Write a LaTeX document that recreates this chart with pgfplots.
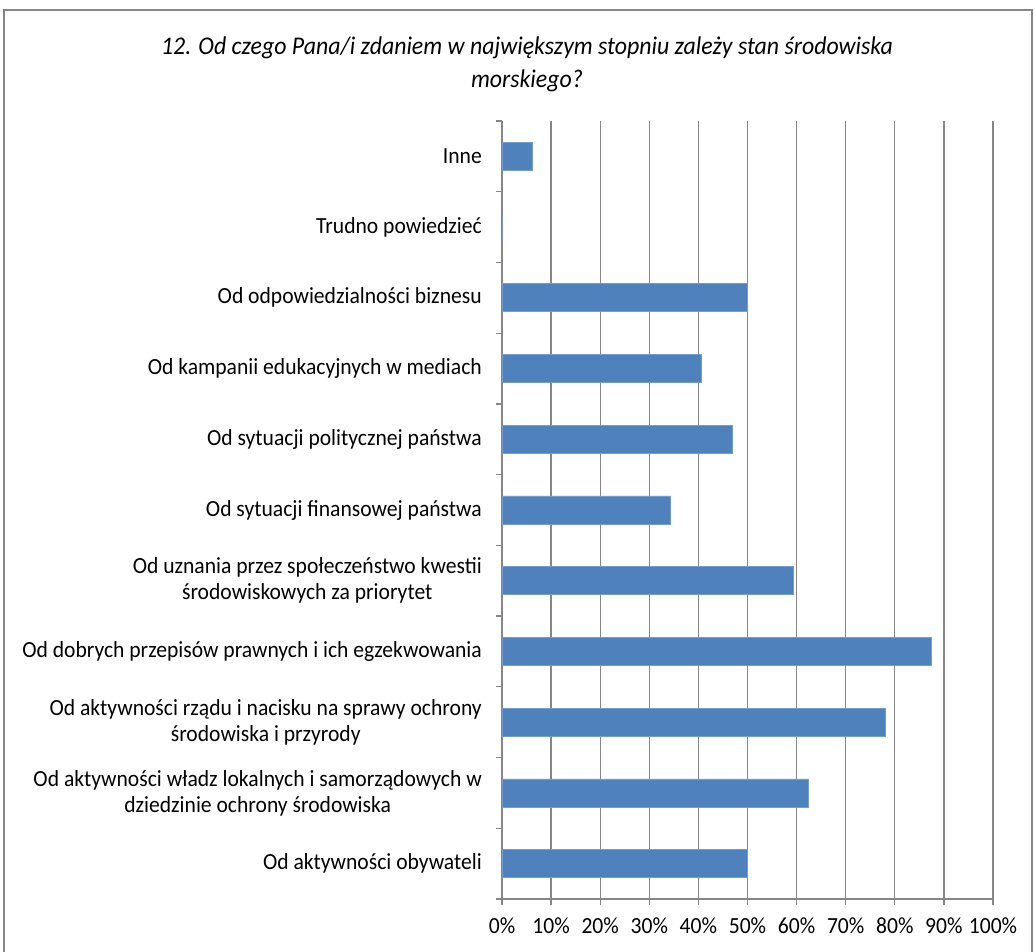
\documentclass[border=0pt]{standalone}
\usepackage{fontspec}
\setmainfont{Carlito}[FakeStretch=0.935]
\usepackage{pgfplots}
\pgfplotsset{compat=1.18}
\definecolor{barblue}{RGB}{79,129,189}
\definecolor{baredge}{RGB}{118,156,205}
\definecolor{gridgray}{RGB}{134,134,134}
\newcommand\lbl{\fontsize{23.1}{26}\selectfont}
\begin{document}
\begin{tikzpicture}[x=1pt,y=1pt]
\begin{axis}[
  at={(0,0)}, anchor=south west,
  scale only axis, width=491pt, height=778pt,
  xbar, bar width=28pt,
  xmin=0, xmax=100, ymin=-0.5, ymax=10.5,
  axis x line*=bottom, axis y line*=left,
  axis line style={gridgray, line width=1.2pt},
  every tick/.style={gridgray, line width=1.2pt},
  tick align=outside,
  major tick length=6pt,
  axis on top=false,
  xtick={0,10,...,100},
  xticklabels={0\%,10\%,20\%,30\%,40\%,50\%,60\%,70\%,80\%,90\%,100\%},
  xticklabel style={font=\lbl, inner sep=0pt, yshift=-13pt},
  xmajorgrids, major x grid style={gridgray, line width=1.2pt},
  ytick={-0.5,0.5,...,10.5},
  yticklabels={},
  extra y ticks={0,1,2,3,4,5,6,7,8,9,10},
  extra y tick labels={
    Od aktywności obywateli,
    {Od aktywności władz lokalnych i samorządowych w\\dziedzinie ochrony środowiska},
    {Od aktywności rządu i nacisku na sprawy ochrony\\środowiska i przyrody},
    Od dobrych przepisów prawnych i ich egzekwowania,
    {Od uznania przez społeczeństwo kwestii\\środowiskowych za priorytet},
    Od sytuacji finansowej państwa,
    Od sytuacji politycznej państwa,
    Od kampanii edukacyjnych w mediach,
    Od odpowiedzialności biznesu,
    Trudno powiedzieć,
    Inne},
  extra y tick style={major tick length=0pt, yticklabel style={font=\lbl, align=center, inner sep=0pt, xshift=-20pt}},
]
\addplot[xbar, fill=barblue, draw=baredge, line width=0.8pt] coordinates {
  (50,0) (62.5,1) (78.125,2) (87.5,3) (59.375,4) (34.375,5)
  (46.875,6) (40.625,7) (50,8) (0,9) (6.25,10)};
\end{axis}
\node[align=center, font=\itshape\fontsize{25.5}{33}\selectfont] at (25,835)
  {12. Od czego Pana/i zdaniem w największym stopniu zależy stan środowiska\\morskiego?};
\draw[gridgray, line width=1.2pt] (-498,-60) -- (-498,889) -- (530,889) -- (530,-60);
\pgfresetboundingbox
\path[use as bounding box] (-502,-53) rectangle (533,899);
\end{tikzpicture}
\end{document}
